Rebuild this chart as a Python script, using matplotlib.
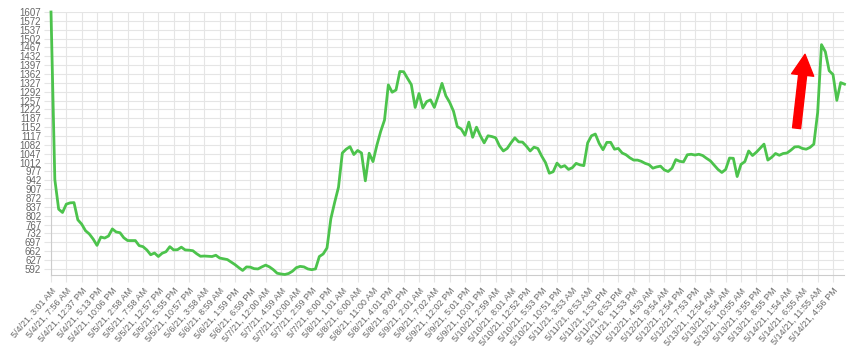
import matplotlib
matplotlib.use("Agg")
import matplotlib.pyplot as plt
import numpy as np

# x-axis category labels (one every 4 data points)
tick_labels = [
    "5/4/21, 3:01 AM", "5/4/21, 7:56 AM", "5/4/21, 12:37 PM", "5/4/21, 5:13 PM",
    "5/4/21, 10:06 PM", "5/5/21, 2:58 AM", "5/5/21, 7:58 AM", "5/5/21, 12:57 PM",
    "5/5/21, 5:55 PM", "5/5/21, 10:57 PM", "5/6/21, 3:58 AM", "5/6/21, 8:59 AM",
    "5/6/21, 1:59 PM", "5/6/21, 6:59 PM", "5/7/21, 12:00 AM", "5/7/21, 4:59 AM",
    "5/7/21, 10:00 AM", "5/7/21, 2:59 PM", "5/7/21, 8:00 PM", "5/8/21, 1:01 AM",
    "5/8/21, 6:00 AM", "5/8/21, 11:00 AM", "5/8/21, 4:01 PM", "5/8/21, 9:02 PM",
    "5/9/21, 2:01 AM", "5/9/21, 7:02 AM", "5/9/21, 12:02 PM", "5/9/21, 5:01 PM",
    "5/9/21, 10:01 PM", "5/10/21, 2:59 AM", "5/10/21, 8:01 AM", "5/10/21, 12:52 PM",
    "5/10/21, 5:53 PM", "5/10/21, 10:51 PM", "5/11/21, 3:53 AM", "5/11/21, 8:53 AM",
    "5/11/21, 1:53 PM", "5/11/21, 6:53 PM", "5/11/21, 11:53 PM", "5/12/21, 4:53 AM",
    "5/12/21, 9:54 AM", "5/12/21, 2:54 PM", "5/12/21, 7:53 PM", "5/13/21, 12:54 AM",
    "5/13/21, 5:54 AM", "5/13/21, 10:55 AM", "5/13/21, 3:55 PM", "5/13/21, 8:55 PM",
    "5/14/21, 1:54 AM", "5/14/21, 6:55 AM", "5/14/21, 11:55 AM", "5/14/21, 4:56 PM",
]
points_per_label = 4

# series values
values = [
    1607, 945, 828, 815, 848, 853, 854, 786, 769, 743,
    730, 710, 685, 718, 714, 722, 750, 738, 735, 715,
    704, 704, 704, 684, 680, 667, 648, 655, 641, 654,
    660, 680, 667, 668, 678, 667, 666, 664, 652, 642,
    643, 642, 641, 646, 635, 632, 629, 619, 609, 597,
    586, 600, 599, 593, 592, 600, 607, 600, 589, 575,
    572, 570, 574, 583, 597, 602, 600, 592, 589, 592,
    641, 651, 675, 790, 855, 915, 1050, 1065, 1075, 1044,
    1060, 1050, 940, 1049, 1016, 1080, 1135, 1180, 1319, 1290,
    1299, 1372, 1371, 1345, 1320, 1230, 1285, 1228, 1253, 1260,
    1230, 1275, 1325, 1276, 1250, 1215, 1154, 1145, 1120, 1172,
    1112, 1152, 1118, 1090, 1118, 1115, 1110, 1078, 1058, 1068,
    1090, 1110, 1094, 1093, 1077, 1058, 1073, 1068, 1038, 1012,
    970, 976, 1010, 994, 1000, 985, 992, 1009, 1003, 1000,
    1090, 1118, 1125, 1088, 1063, 1092, 1092, 1065, 1068, 1050,
    1043, 1031, 1022, 1022, 1017, 1009, 1004, 990, 995, 998,
    983, 977, 990, 1024, 1017, 1015, 1043, 1045, 1042, 1045,
    1040, 1029, 1019, 1002, 985, 973, 985, 1030, 1029, 957,
    1005, 1016, 1058, 1040, 1053, 1069, 1085, 1022, 1033, 1048,
    1041, 1048, 1050, 1061, 1074, 1075, 1068, 1065, 1072, 1085,
    1210, 1478, 1450, 1375, 1360, 1258, 1328, 1322,
]

y_ticks = list(range(592, 1608, 35))
y_min, y_max = 568, 1607

# red annotation arrow (tail -> head), in data coordinates
arrow_tail = (194.5, 1148)
arrow_head = (196.7, 1440)

W, H = 854, 360
fig = plt.figure(figsize=(W / 100, H / 100), dpi=100)
ax = fig.add_axes([51 / W, 1 - 275 / H, (844.5 - 51) / W, (275 - 12) / H])

grid_c = "#e5e5e5"
text_c = "#666666"

x = np.arange(len(values))
ax.plot(x, values, color="#4cc34c", linewidth=2.0, solid_joinstyle="round",
        clip_on=False, zorder=3)

ax.set_xlim(0, len(values) - 1)
ax.set_ylim(y_min, y_max)

ax.set_yticks(y_ticks)
ax.set_yticklabels([str(t) for t in y_ticks])
xt = np.arange(len(tick_labels)) * points_per_label
ax.set_xticks(xt)
ax.set_xticklabels(tick_labels, rotation=49, ha="right", va="top",
                   rotation_mode="anchor")

ax.grid(True, color=grid_c, linewidth=0.8)
ax.set_axisbelow(True)
ax.tick_params(axis="both", colors=grid_c, labelcolor=text_c, labelsize=7,
               length=5, width=0.8)
ax.tick_params(axis="x", pad=3, labelsize=6.5)
ax.tick_params(axis="y", pad=2)
for lab in ax.get_xticklabels() + ax.get_yticklabels():
    lab.set_fontfamily("Liberation Sans")

for s in ["top", "right"]:
    ax.spines[s].set_visible(False)
for s in ["left", "bottom"]:
    ax.spines[s].set_color("#cccccc")
    ax.spines[s].set_linewidth(0.8)

ax.annotate("", xy=arrow_head, xytext=arrow_tail,
            arrowprops=dict(arrowstyle="simple,head_length=1.5,head_width=1.6,tail_width=0.58",
                            mutation_scale=10, color="#ff0000", shrinkA=0, shrinkB=0),
            zorder=5)

fig.savefig("out.png", dpi=100)
